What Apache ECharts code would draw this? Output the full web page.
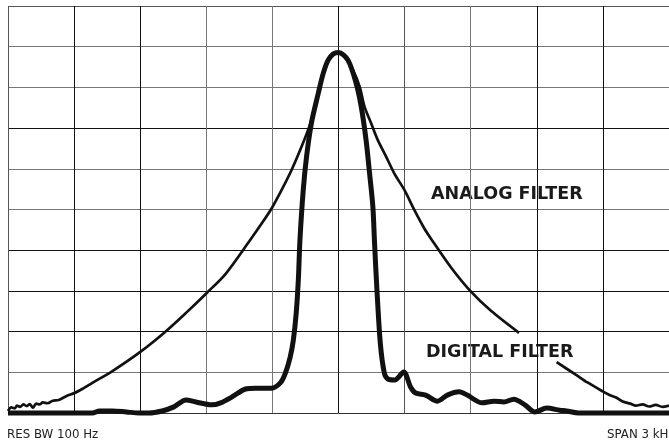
<!DOCTYPE html>
<html>
<head>
<meta charset="utf-8">
<script src="https://cdn.jsdelivr.net/npm/echarts@6/dist/echarts.min.js"></script>
<style>
html,body{margin:0;padding:0;background:#fff;}
#chart{width:669px;height:442px;}
</style>
</head>
<body>
<div id="chart"></div>
<script>
// Frequency offset from centre (Hz), span 3 kHz, 300 Hz/div
const xTicks = [-1500, -1200, -900, -600, -300, 0, 300, 600, 900, 1200, 1500];
// Level (dB), 10 dB/div
const yTicks = [-100, -90, -80, -70, -60, -50, -40, -30, -20, -10, 0];

const analogFreq = [-1500,-1485,-1470,-1459,-1445,-1430,-1415,-1401,-1387,-1372,-1357,-1342,-1320,-1297,-1270,-1234,-1198,-1160,-1117,-1026,-895,-783,-692,-598,-512,-401,-348,-303,-258,-213,-168,-130,-100,-78,-55,-25,0,28,65,96,118,148,178,216,253,299,344,389,419,510,598,692,819,900,990,1080,1130,1196,1230,1260,1290,1324,1350,1380,1410,1440,1470,1500];
const analogLevel = [-99.5,-98.6,-98.9,-98.2,-98.5,-97.9,-98.3,-97.8,-98.7,-97.7,-97.9,-97.4,-97.6,-97.0,-96.8,-95.8,-95.1,-94.0,-92.6,-89.7,-84.8,-79.9,-75.4,-70.5,-65.8,-57.5,-53.4,-49.7,-45.2,-40.3,-34.6,-29.2,-23.1,-18.2,-14.1,-11.6,-11.3,-12.5,-15.7,-19.8,-24.7,-28.8,-32.9,-37.0,-41.1,-45.2,-50.1,-54.6,-57.1,-64.2,-70.0,-74.9,-80.3,null,-87.5,-90.7,-92.5,-94.6,-95.6,-96.2,-97.2,-97.7,-98.2,-97.9,-98.4,-98.0,-98.5,-98.2];

const digitalFreq = [-1500,-1117,-1085,-1026,-963,-904,-860,-801,-747,-692,-647,-575,-535,-485,-422,-377,-305,-264,-241,-219,-205,-192,-182,-175,-160,-145,-123,-92,-69,-47,-24,0,43,80,103,125,141,156,163,174,190,208,223,255,296,327,350,395,449,494,548,584,652,706,751,796,846,891,945,1004,1035,1089,1500];
const digitalLevel = [-100,-100,-99.5,-99.5,-99.75,-100,-100,-99.5,-98.5,-96.8,-97.3,-98.0,-97.5,-96.1,-94.1,-93.9,-93.9,-92.6,-90.2,-86.2,-82.1,-75.5,-67.0,-57.5,-45.2,-37.0,-28.8,-21.5,-16.5,-13.3,-11.8,-11.4,-13.3,-19.0,-24.7,-32.9,-41.1,-49.3,-57.5,-69.3,-83.0,-90.2,-91.6,-91.9,-89.9,-93.6,-95.1,-95.6,-97.1,-95.6,-94.8,-95.6,-97.5,-97.1,-97.3,-96.6,-98.0,-99.75,-98.8,-99.3,-99.5,-100,-100];

const labels = {
  analog: 'ANALOG FILTER',
  digital: 'DIGITAL FILTER',
  resbw: 'RES BW 100 Hz',
  span: 'SPAN 3 kHz'
};

const zip = (xs, ys) => xs.map((x, i) => [x, ys[i]]);

const xGridColors = ['#555','#111','#111','#777','#777','#111','#555','#777','#111','#111','#111'];
const yGridColors = ['#333','#777','#111','#111','#111','#777','#777','#111','#777','#777','#555'];

const chart = echarts.init(document.getElementById('chart'), null, {renderer: 'canvas'});
const bigFont = '"DejaVu Sans", sans-serif';
chart.setOption({
  animation: false,
  backgroundColor: '#fff',
  grid: {left: 8, top: 6, width: 665, height: 407, containLabel: false},
  xAxis: {
    type: 'value', min: xTicks[0], max: xTicks[xTicks.length - 1], interval: 300,
    axisLine: {show: false}, axisTick: {show: false}, axisLabel: {show: false},
    splitLine: {show: true, lineStyle: {color: xGridColors, width: 1}}
  },
  yAxis: {
    type: 'value', min: yTicks[0], max: yTicks[yTicks.length - 1], interval: 10,
    axisLine: {show: false}, axisTick: {show: false}, axisLabel: {show: false},
    splitLine: {show: true, lineStyle: {color: yGridColors, width: 1}}
  },
  series: [
    {
      name: labels.analog, type: 'line', data: zip(analogFreq, analogLevel),
      showSymbol: false, smooth: 0.3, connectNulls: false, clip: false,
      lineStyle: {color: '#111', width: 2.7}
    },
    {
      name: labels.digital, type: 'line', data: zip(digitalFreq, digitalLevel),
      showSymbol: false, smooth: 0.3, clip: false,
      lineStyle: {color: '#111', width: 5}
    }
  ],
  graphic: [
    {type: 'text', left: 431, top: 185, style: {text: labels.analog, fill: '#1a1a1a', font: 'bold 17.5px ' + bigFont}},
    {type: 'text', left: 426, top: 343, style: {text: labels.digital, fill: '#1a1a1a', font: 'bold 17.5px ' + bigFont}},
    {type: 'text', left: 7, top: 429, style: {text: labels.resbw, fill: '#222', font: '11.8px ' + bigFont}},
    {type: 'text', left: 607, top: 429, style: {text: labels.span, fill: '#222', font: '11.8px ' + bigFont}}
  ]
});
</script>
</body>
</html>
